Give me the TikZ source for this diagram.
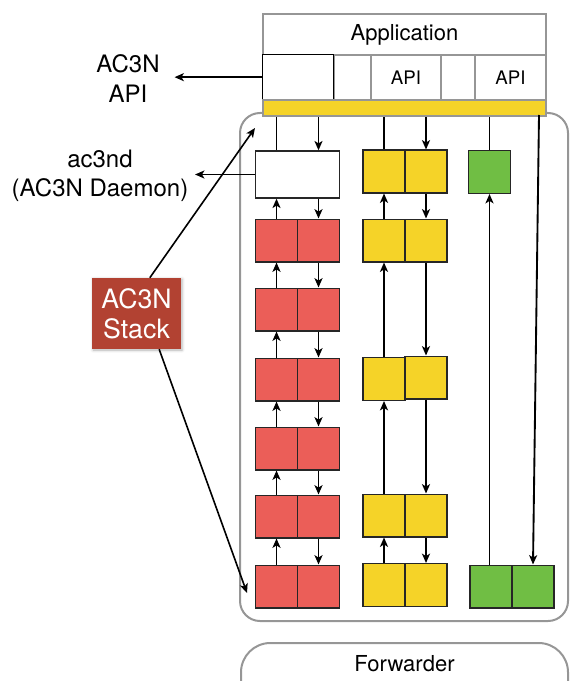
\documentclass[tikz,border=0pt]{standalone}
\usepackage{fontspec}
\setmainfont{TeX Gyre Heros}
\usetikzlibrary{arrows.meta}
\usetikzlibrary{shadows.blur}
\definecolor{redbox}{RGB}{235,94,88}
\definecolor{yellowbox}{RGB}{245,211,40}
\definecolor{greenbox}{RGB}{112,190,68}
\definecolor{stackred}{RGB}{178,66,50}
\definecolor{framegray}{RGB}{150,150,150}

\begin{document}
\begin{tikzpicture}[x=0.75pt,y=0.75pt,yscale=-1,xscale=1,
  cell/.style={draw=black!85, line width=1pt, inner sep=0pt, minimum width=31.5pt, minimum height=32pt},
  redcell/.style={cell, fill=redbox},
  yelcell/.style={cell, fill=yellowbox},
  grncell/.style={cell, fill=greenbox},
  appcell/.style={draw=framegray, line width=1.5pt, inner sep=0pt, fill=white, anchor=north west, minimum height=33.75pt, font=\fontsize{14}{16}\selectfont},
  arr/.style={line width=1.4pt, -{Stealth[length=7pt,width=6pt,inset=1.8pt]}},
  link/.style={line width=1.4pt},
  lbl/.style={align=center, font=\fontsize{18}{22}\selectfont, inner sep=0.75pt}]
\useasboundingbox (0,0) rectangle (569,681);

%Rounded Rect: stack frame
\draw [draw=framegray, line width=1.5pt, rounded corners=15pt] (240,113) rectangle (568,621);
%Rounded Rect: forwarder
\draw [draw=framegray, line width=1.5pt, rounded corners=22pt] (241,643) rectangle (568,720);
% Text Node
\node [font=\fontsize{16.5}{18}\selectfont] (fwd) at (404.5,664) {Forwarder};

%Application block
\node [appcell, minimum width=212.25pt, minimum height=30.75pt, font=\fontsize{16.5}{18}\selectfont] (app) at (262,13) {Application};
\node [appcell, minimum width=27.75pt] (gapA) at (333,54) {};
\node [appcell, minimum width=52.5pt] (apiA) at (370,54) {API};
\node [appcell, minimum width=25.5pt] (gapB) at (440,54) {};
\node [appcell, minimum width=53.25pt] (apiB) at (474,54) {API};
\node [appcell, minimum width=53.25pt, draw=black, line width=1pt] (apicell) at (262,54) {};
\node [appcell, minimum width=212.25pt, minimum height=12pt, fill=yellowbox] (bar) at (262,99) {};

%Daemon and red stack
\node [cell, fill=white, minimum width=63pt, minimum height=35.25pt] (daemon) at (297.5,174.5) {};
\foreach \y [count=\i] in {240.5,309.5,379.5,448.5,516.5,586.5} {
  \node [redcell] (redL\i) at (276.5,\y) {};
  \node [redcell] (redR\i) at (318.5,\y) {};
}
%Yellow stack
\foreach \y/\yr [count=\i] in {171.5/171.5,240.5/240.5,379/377.5,515.5/515.5,585/585} {
  \node [yelcell] (yelL\i) at (384,\y) {};
  \node [yelcell] (yelR\i) at (426,\yr) {};
}
%Green stack
\node [grncell] (grnT) at (489.5,172) {};
\node [grncell] (grnL) at (491,586.5) {};
\node [grncell] (grnR) at (533,586.5) {};
\coordinate (grnTop) at (539,115);

%Red arrows
\draw [link] (daemon.north -| redL1) -- (bar.south -| redL1);
\draw [arr] (bar.south -| redR1) -- (daemon.north -| redR1);
\draw [arr] (redL1.north) -- (daemon.south -| redL1);
\draw [arr] (daemon.south -| redR1) -- (redR1.north);
\foreach \i/\j in {1/2,2/3,3/4,4/5,5/6} {
  \draw [arr] (redL\j.north) -- (redL\i.south);
  \draw [arr] (redR\i.south) -- (redR\j.north);
}
%Yellow arrows
\draw [link] (yelL1.north) -- (bar.south -| yelL1);
\draw [arr] (bar.south -| yelR1) -- (yelR1.north);
\foreach \i/\j in {1/2,2/3,3/4,4/5} {
  \draw [arr] (yelL\j.north) -- (yelL\i.south);
  \draw [arr] (yelR\i.south) -- (yelR\j.north);
}
%Green arrows
\draw [link] (grnT.north) -- (bar.south -| grnT);
\draw [arr] (grnL.north -| grnT) -- (grnT.south);
\draw [arr] (grnTop) -- (grnR.north);

% Text Node
\node [lbl, inner xsep=11pt] (apilbl) at (128,78.5) {AC3N\\API};
\draw [arr] (apicell.west) -- (apicell.west -| apilbl.east);
% Text Node
\node [lbl, inner xsep=4.9pt] (dmnlbl) at (100,176) {ac3nd\\(AC3N Daemon)};
\draw [arr] (daemon.west) -- (daemon.west -| dmnlbl.east);

%AC3N stack box
\node [fill=stackred, text=white, align=center, inner sep=0pt, minimum width=66.75pt, minimum height=53.25pt, font=\fontsize{20}{22.5}\selectfont, blur shadow={shadow xshift=0.8pt, shadow yshift=-0.8pt, shadow opacity=30}] (stack) at (136.5,313.5) {AC3N\\Stack};
\coordinate (tipA) at (255,128);
\coordinate (tipB) at (247,593);
\draw [arr, line width=1.2pt] ([xshift=10pt]stack.north) -- (tipA);
\draw [arr, line width=1.2pt] ([xshift=17pt]stack.south) -- (tipB);

\end{tikzpicture}
\end{document}
